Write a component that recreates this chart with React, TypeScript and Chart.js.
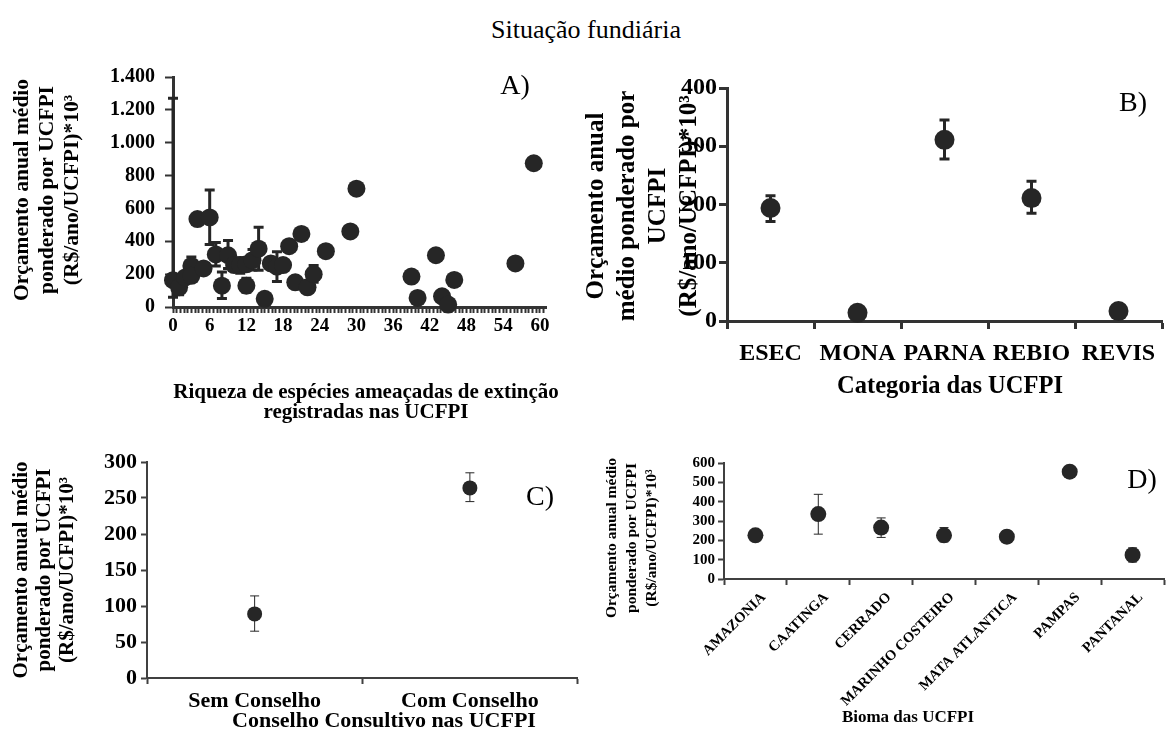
import React, { useEffect, useRef } from 'react';
import { Chart, registerables } from 'chart.js';

Chart.register(...registerables);

const SERIF = '"Liberation Serif", "Times New Roman", Times, serif';
const INK = '#262626';
const TEXT = '#000000';

// ---------------- Panel A: threatened species richness (scatter)
const richnessA = [0, 1, 2, 3, 3, 4, 5, 6, 7, 8, 9, 10, 11, 12, 12, 13, 14, 15, 16, 17, 18, 19, 20, 21, 22, 23, 25, 29, 30, 39, 40, 43, 44, 45, 46, 56, 59];
const budgetA = [163, 120, 180, 250, 190, 535, 235, 545, 320, 130, 315, 255, 255, 130, 260, 285, 355, 50, 265, 245, 255, 370, 150, 445, 120, 200, 340, 460, 720, 185, 55, 315, 65, 15, 165, 265, 875];
const errLowA = [60, 75, null, 195, null, 505, null, 380, 250, 52, 235, null, 205, 90, null, 225, 223, null, null, 155, null, null, null, null, null, 150, null, null, null, null, null, null, null, null, null, null, null];
const errHighA = [1270, 165, null, 305, null, 565, null, 712, 393, 213, 405, null, 300, 175, null, 350, 485, null, null, 336, null, null, null, null, null, 253, null, null, null, null, null, null, null, null, null, null, null];
const xMajorTicksA = [0, 6, 12, 18, 24, 30, 36, 42, 48, 54, 60];
const yTickValuesA = [0, 200, 400, 600, 800, 1000, 1200, 1400];
const yTickLabelsA = ['0', '200', '400', '600', '800', '1.000', '1.200', '1.400'];

// ---------------- Panel B: category
const categoriesB = ['ESEC', 'MONA', 'PARNA', 'REBIO', 'REVIS'];
const budgetB = [194, 14, 311, 211, 17];
const errLowB = [171, null, 278, 185, null];
const errHighB = [215, null, 345, 240, null];

// ---------------- Panel C: advisory council
const categoriesC = ['Sem Conselho', 'Com Conselho'];
const budgetC = [89, 264];
const errLowC = [65, 245];
const errHighC = [114, 285];

// ---------------- Panel D: biome
const categoriesD = ['AMAZONIA', 'CAATINGA', 'CERRADO', 'MARINHO COSTEIRO', 'MATA ATLANTICA', 'PAMPAS', 'PANTANAL'];
const budgetD = [226, 336, 266, 226, 219, 555, 124];
const errLowD = [null, 232, 215, 192, 188, null, 88];
const errHighD = [null, 438, 316, 266, 250, null, 161];

const Y_TITLE = ['Orçamento anual médio', 'ponderado por UCFPI', '(R$/ano/UCFPI)*10³'];

type Geo = { left: number; top: number; width: number; height: number; area: { l: number; t: number; r: number; b: number } };
type TextItem = { lines: string[]; x: number; y: number; size: number; bold?: boolean; rotate?: number; lh?: number; align?: CanvasTextAlign };

function textPlugin(geo: Geo, items: TextItem[]) {
  return {
    id: 'panelText',
    afterDraw(chart: any) {
      const ctx = chart.ctx as CanvasRenderingContext2D;
      items.forEach((it) => {
        ctx.save();
        ctx.translate(it.x - geo.left, it.y - geo.top);
        if (it.rotate) ctx.rotate(it.rotate);
        ctx.font = `${it.bold ? 'bold ' : ''}${it.size}px ${SERIF}`;
        ctx.fillStyle = TEXT;
        ctx.textAlign = it.align || 'center';
        ctx.textBaseline = 'middle';
        it.lines.forEach((line, i) => ctx.fillText(line, 0, i * (it.lh || it.size)));
        ctx.restore();
      });
    },
  };
}

function errorBarPlugin(low: (number | null)[], high: (number | null)[], width: number, cap: number) {
  return {
    id: 'errorBars',
    beforeDatasetsDraw(chart: any) {
      const ctx = chart.ctx as CanvasRenderingContext2D;
      const meta = chart.getDatasetMeta(0);
      const ys = chart.scales.y;
      ctx.save();
      ctx.strokeStyle = INK;
      ctx.lineWidth = width;
      meta.data.forEach((pt: any, i: number) => {
        const lo = low[i];
        const hi = high[i];
        if (lo == null || hi == null) return;
        const x = pt.x;
        const y1 = ys.getPixelForValue(lo);
        const y2 = ys.getPixelForValue(hi);
        ctx.beginPath();
        ctx.moveTo(x, y1);
        ctx.lineTo(x, y2);
        ctx.moveTo(x - cap, y1);
        ctx.lineTo(x + cap, y1);
        ctx.moveTo(x - cap, y2);
        ctx.lineTo(x + cap, y2);
        ctx.stroke();
      });
      ctx.restore();
    },
  };
}

function layoutFor(g: Geo) {
  return {
    padding: { left: 0, bottom: 0, top: g.area.t - g.top, right: g.left + g.width - g.area.r },
  };
}

function font(size: number) {
  return { family: SERIF, size, weight: 'bold' as const, lineHeight: 1.2 };
}

function yScale(g: Geo, min: number, max: number, step: number, size: number, tickLen: number, tickW: number, borderW: number, pad: number, color: string, cb?: (v: number) => string) {
  return {
    type: 'linear',
    min,
    max,
    afterFit: (s: any) => { s.width = g.area.l - g.left; },
    grid: { display: true, drawOnChartArea: false, drawTicks: true, tickLength: tickLen, tickWidth: tickW, tickColor: color },
    border: { display: true, color, width: borderW },
    ticks: { stepSize: step, autoSkip: false, font: font(size), color: TEXT, padding: pad, callback: cb ? (v: any) => cb(Number(v)) : undefined },
  };
}

function catScale(g: Geo, size: number, tickLen: number, tickW: number, borderW: number, pad: number, color: string, rot = 0, labelOffset = 0) {
  return {
    type: 'category',
    offset: true,
    afterFit: (s: any) => { s.height = g.top + g.height - g.area.b; },
    grid: { display: true, offset: true, drawOnChartArea: false, drawTicks: true, tickLength: tickLen, tickWidth: tickW, tickColor: color },
    border: { display: true, color, width: borderW },
    ticks: { font: font(size), color: TEXT, padding: pad, autoSkip: false, maxRotation: rot, minRotation: rot, labelOffset },
  };
}

const commonPlugins = { legend: { display: false }, tooltip: { enabled: false }, title: { display: false } };

// ---------------- Geometry (page coordinates)
const geoA: Geo = { left: 0, top: 55, width: 585, height: 375, area: { l: 173, t: 75, r: 546, b: 307 } };
const geoB: Geo = { left: 580, top: 55, width: 592, height: 345, area: { l: 727, t: 88, r: 1172, b: 321 } };
const geoC: Geo = { left: 0, top: 440, width: 585, height: 291, area: { l: 147, t: 462, r: 580, b: 678 } };
const geoD: Geo = { left: 585, top: 440, width: 587, height: 291, area: { l: 724, t: 463, r: 1170, b: 579 } };

function configA(): any {
  const g = geoA;
  const AX = '#333333';
  return {
    type: 'scatter',
    data: {
      datasets: [{
        data: richnessA.map((x, i) => ({ x, y: budgetA[i] })),
        pointRadius: 9,
        pointBackgroundColor: INK,
        pointBorderWidth: 0,
        clip: false,
      }],
    },
    options: {
      animation: false,
      responsive: false,
      devicePixelRatio: 1,
      layout: layoutFor(g),
      plugins: commonPlugins,
      scales: {
        x: {
          type: 'linear',
          min: 0,
          max: 61,
          afterFit: (s: any) => { s.height = g.top + g.height - g.area.b; },
          afterBuildTicks: (s: any) => {
            const t: any[] = [];
            for (let k = 0; k * 0.6 <= 61 + 1e-9; k++) t.push({ value: Math.round(k * 0.6 * 1000) / 1000 });
            s.ticks = t;
          },
          grid: { display: true, drawOnChartArea: false, drawTicks: true, tickLength: 6, tickWidth: 2, tickColor: AX },
          border: { display: true, color: AX, width: 3 },
          ticks: {
            font: font(19), color: TEXT, padding: 2, autoSkip: false, maxRotation: 0,
            callback: (v: any) => {
              const hit = xMajorTicksA.find((m) => Math.abs(m - Number(v)) < 1e-6);
              return hit === undefined ? '' : String(hit);
            },
          },
        },
        y: yScale(g, 0, 1400, 200, 20, 8, 2, 3, 10, AX, (v) => {
          const i = yTickValuesA.indexOf(v);
          return i >= 0 ? yTickLabelsA[i] : '';
        }),
      },
    },
    plugins: [
      errorBarPlugin(errLowA, errHighA, 3, 5),
      textPlugin(g, [
        { lines: Y_TITLE, x: 22, y: 190, size: 21.5, bold: true, rotate: -Math.PI / 2, lh: 25 },
        { lines: ['Riqueza de espécies ameaçadas de extinção', 'registradas nas UCFPI'], x: 366, y: 393, size: 21, bold: true, lh: 20 },
        { lines: ['A)'], x: 515, y: 87, size: 28 },
      ]),
    ],
  };
}

function configCat(g: Geo, labels: string[], values: number[], lo: (number | null)[], hi: (number | null)[], opts: any, texts: TextItem[]): any {
  return {
    type: 'line',
    data: {
      labels,
      datasets: [{
        data: values,
        showLine: false,
        pointRadius: opts.radius,
        pointBackgroundColor: INK,
        pointBorderWidth: 0,
        clip: false,
      }],
    },
    options: {
      animation: false,
      responsive: false,
      devicePixelRatio: 1,
      layout: layoutFor(g),
      plugins: commonPlugins,
      scales: {
        x: catScale(g, opts.xSize, opts.tickLen, opts.tickW, opts.borderW, opts.xPad, opts.axis, opts.rot || 0, opts.labelOffset || 0),
        y: yScale(g, 0, opts.max, opts.step, opts.ySize, opts.tickLen, opts.tickW, opts.borderW, opts.yPad, opts.axis),
      },
    },
    plugins: [errorBarPlugin(lo, hi, opts.errW, opts.cap), textPlugin(g, texts)],
  };
}

function configB() {
  return configCat(geoB, categoriesB, budgetB, errLowB, errHighB,
    { radius: 10, xSize: 24, ySize: 24, tickLen: 8, tickW: 3, borderW: 3, xPad: 10, yPad: 2, axis: '#333333', max: 400, step: 100, errW: 3, cap: 5 },
    [
      { lines: ['Orçamento anual', 'médio ponderado por', 'UCFPI', '(R$/ano/UCFPI)*10³'], x: 597, y: 206, size: 25, bold: true, rotate: -Math.PI / 2, lh: 31 },
      { lines: ['Categoria das UCFPI'], x: 950, y: 387, size: 24.5, bold: true },
      { lines: ['B)'], x: 1133, y: 104, size: 28 },
    ]);
}

function configC() {
  return configCat(geoC, categoriesC, budgetC, errLowC, errHighC,
    { radius: 7.5, xSize: 22, ySize: 22, tickLen: 6, tickW: 2, borderW: 2, xPad: 4, yPad: 4, axis: '#404040', max: 300, step: 50, errW: 1, cap: 4.5 },
    [
      { lines: Y_TITLE, x: 22, y: 570, size: 21, bold: true, rotate: -Math.PI / 2, lh: 23 },
      { lines: ['Conselho Consultivo nas UCFPI'], x: 384, y: 721, size: 22, bold: true },
      { lines: ['C)'], x: 540, y: 498, size: 28 },
    ]);
}

function configD() {
  return configCat(geoD, categoriesD, budgetD, errLowD, errHighD,
    { radius: 8, xSize: 14.5, ySize: 15, tickLen: 6, tickW: 2, borderW: 2, xPad: 4, yPad: 3, axis: '#404040', max: 600, step: 100, errW: 1, cap: 4.5, rot: 45, labelOffset: 8 },
    [
      { lines: Y_TITLE, x: 612, y: 538, size: 15.5, bold: true, rotate: -Math.PI / 2, lh: 20 },
      { lines: ['Bioma das UCFPI'], x: 908, y: 718, size: 17, bold: true },
      { lines: ['D)'], x: 1142, y: 481, size: 28 },
    ]);
}

function Panel({ geo, build }: { geo: Geo; build: () => any }) {
  const ref = useRef<HTMLCanvasElement>(null);
  useEffect(() => {
    if (!ref.current) return;
    const chart = new Chart(ref.current, build());
    return () => chart.destroy();
  }, []);
  return (
    <canvas
      ref={ref}
      width={geo.width}
      height={geo.height}
      style={{ position: 'absolute', left: geo.left, top: geo.top, width: geo.width, height: geo.height }}
    />
  );
}

export default function App() {
  return (
    <div style={{ position: 'fixed', left: 0, top: 0, width: 1172, height: 731, background: '#ffffff', overflow: 'hidden' }}>
      <div style={{ position: 'absolute', left: 0, top: 12, width: 1172, lineHeight: '36px', textAlign: 'center', fontFamily: SERIF, fontSize: 26, color: '#000' }}>
        Situação fundiária
      </div>
      <Panel geo={geoA} build={configA} />
      <Panel geo={geoB} build={configB} />
      <Panel geo={geoC} build={configC} />
      <Panel geo={geoD} build={configD} />
    </div>
  );
}
